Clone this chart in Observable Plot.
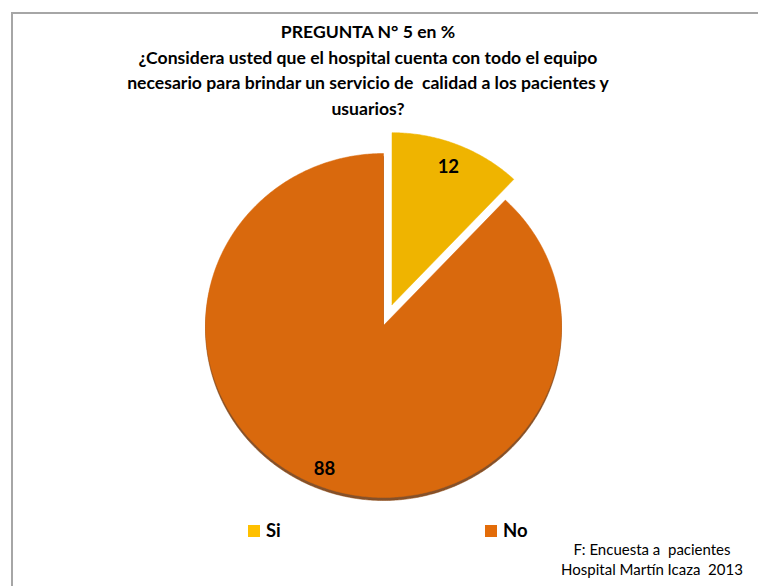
<!DOCTYPE html>
<html><head><meta charset="utf-8">
<script src="https://cdn.jsdelivr.net/npm/d3@7"></script>
<script src="https://cdn.jsdelivr.net/npm/@observablehq/plot@0.6"></script>
<style>
body{margin:0;background:#fff;}
#wrap{position:relative;width:758px;height:586px;overflow:hidden;font-family:Lato,"Open Sans",sans-serif;color:#000;}
#frame{position:absolute;left:11px;top:12px;width:800px;height:600px;border-left:2px solid #a6a6a6;border-top:2px solid #a6a6a6;}
#title{position:absolute;left:0;width:736px;top:19px;text-align:center;font-weight:bold;font-size:17.6px;line-height:25.5px;}
#chart{position:absolute;left:0;top:0;}
.sw{position:absolute;width:12px;height:12px;}
.lt{position:absolute;font-weight:bold;font-size:18.5px;line-height:20px;}
#caption{position:absolute;left:552px;width:200px;top:539px;text-align:center;font-size:15px;line-height:20px;}
</style></head>
<body>
<div id="wrap">
  <div id="frame"></div>
  <div id="title"></div>
  <div id="chart"></div>
  <div id="legend"></div>
  <div id="caption"></div>
</div>
<script>
const titleLines = [
  "PREGUNTA N° 5 en %",
  "¿Considera usted que el hospital cuenta con todo el equipo",
  "necesario para brindar un servicio de  calidad a los pacientes y",
  "usuarios?"
];
const categories = ["Si", "No"];
const values = [12, 88];
const pieColors = ["#EFB400", "#D9690D"];
const legendColors = ["#FFC000", "#E36C09"];
const explode = [0.13, 0];
const labelRadius = [0.86, 0.9];
const captionLines = ["F: Encuesta a  pacientes", "Hospital Martín Icaza  2013"];

document.getElementById("title").innerHTML = titleLines.map(t => t.replace(/  /g, " &nbsp;")).join("<br>");
document.getElementById("caption").innerHTML = captionLines.map(t => t.replace(/  /g, " &nbsp;")).join("<br>");

// pie geometry from values
const arcs = d3.pie().sort(null).startAngle(0).endAngle(2 * Math.PI)(values);
const polys = [];
const labels = [];
arcs.forEach((a, i) => {
  const mid = (a.startAngle + a.endAngle) / 2;
  const ox = explode[i] * Math.sin(mid), oy = explode[i] * Math.cos(mid);
  polys.push({cat: categories[i], x: ox, y: oy});
  const n = Math.max(4, Math.ceil((a.endAngle - a.startAngle) / 0.01));
  for (let k = 0; k <= n; k++) {
    const t = a.startAngle + (a.endAngle - a.startAngle) * k / n;
    polys.push({cat: categories[i], x: ox + Math.sin(t), y: oy + Math.cos(t)});
  }
  polys.push({cat: categories[i], x: ox, y: oy});
  labels.push({cat: categories[i], v: values[i], x: ox + labelRadius[i] * Math.sin(mid), y: oy + labelRadius[i] * Math.cos(mid)});
});

const chart = Plot.plot({
  width: 758,
  height: 586,
  marginLeft: 205,
  marginRight: 197,
  marginTop: 153,
  marginBottom: 89,
  x: {domain: [-1, 1], axis: null},
  y: {domain: [-1, 1], axis: null},
  color: {domain: categories, range: pieColors},
  style: {background: "transparent", overflow: "visible"},
  marks: [
    Plot.line(polys.filter(d => d.cat === "No"), {x: "x", y: "y", z: "cat", fill: "#6e3206", stroke: "#8a4208", strokeOpacity: 0.5, strokeWidth: 1, dy: 3, curve: "linear", fillOpacity: 0.85}),
    Plot.line(polys, {x: "x", y: "y", z: "cat", fill: "cat", stroke: "cat", strokeWidth: 0.5, curve: "linear"}),
    Plot.text(labels, {x: "x", y: "y", text: d => String(d.v), fontSize: 18.5, fontWeight: "bold", fill: "#000", fontFamily: "Lato, sans-serif"})
  ]
});
document.getElementById("chart").appendChild(chart);

// legend
const legendX = [248, 485];
const leg = document.getElementById("legend");
categories.forEach((c, i) => {
  const s = document.createElement("div");
  s.className = "sw";
  s.style.left = legendX[i] + "px";
  s.style.top = "525px";
  s.style.background = legendColors[i];
  leg.appendChild(s);
  const t = document.createElement("div");
  t.className = "lt";
  t.style.left = (legendX[i] + 18) + "px";
  t.style.top = "520px";
  t.textContent = c;
  leg.appendChild(t);
});
</script>
</body></html>
